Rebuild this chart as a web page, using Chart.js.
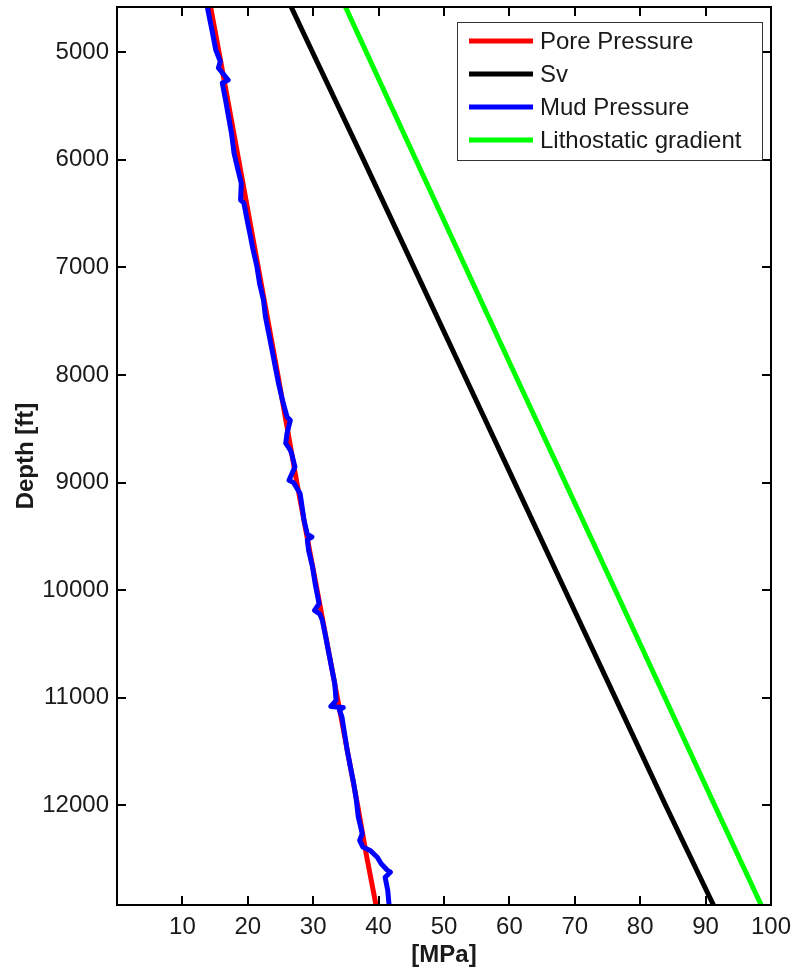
<!DOCTYPE html>
<html>
<head>
<meta charset="utf-8">
<script src="https://cdn.jsdelivr.net/npm/chart.js@4.4.0/dist/chart.umd.min.js"></script>
<style>
html,body{margin:0;padding:0;background:#fff;}
</style>
</head>
<body>
<canvas id="myChart" width="795" height="975"></canvas>
<script>
// tick labels
const depthTicks = [5000, 6000, 7000, 8000, 9000, 10000, 11000, 12000];
const mpaTicks = [10, 20, 30, 40, 50, 60, 70, 80, 90, 100];

// Pore pressure [MPa] vs depth [ft]
const poreDepth = [4575, 5000, 6000, 7000, 8000, 9000, 10000, 11000, 12000, 12450, 12925];
const poreMPa   = [14.3, 15.6, 18.6, 21.6, 24.6, 27.5, 30.6, 33.7, 36.8, 38.1, 39.6];

// Overburden Sv
const svDepth = [4575, 5000, 6000, 7000, 8000, 9000, 10000, 11000, 12000, 12925];
const svMPa   = [26.6, 29.9, 37.7, 45.4, 53.1, 60.8, 68.5, 76.2, 83.9, 91.2];

// Mud pressure
const mudDepth = [4575, 4607, 4820, 4979, 5087, 5146, 5258, 5286, 5444, 5751, 5939, 6095, 6217, 6374, 6400,
  6529, 6681, 6834, 6994, 7148, 7304, 7459, 7611, 7766, 7924, 8078, 8234, 8389, 8420, 8543, 8634, 8699,
  8729, 8854, 8978, 9000, 9101, 9226, 9350, 9480, 9505, 9530, 9629, 9784, 9939, 10094, 10125, 10187, 10220,
  10280, 10400, 10558, 10714, 10868, 11024, 11080, 11090, 11110, 11179, 11334, 11489, 11644, 11798, 11953,
  12109, 12263, 12325, 12387, 12418, 12481, 12542, 12600, 12620, 12667, 12791, 12925];
const mudMPa = [13.8, 13.9, 14.6, 15.1, 15.8, 15.5, 17.0, 16.1, 16.6, 17.5, 17.9, 18.5, 19.0, 18.9, 19.4,
  19.8, 20.3, 20.8, 21.4, 21.8, 22.4, 22.7, 23.2, 23.7, 24.2, 24.7, 25.3, 26.0, 26.5, 26.0, 25.8, 26.5,
  26.7, 27.2, 26.3, 27.0, 28.0, 28.3, 28.6, 29.1, 29.8, 29.1, 29.3, 29.9, 30.3, 30.8, 30.9, 30.2, 31.0,
  31.4, 31.8, 32.3, 32.8, 33.3, 33.5, 32.7, 34.6, 34.0, 34.4, 34.8, 35.2, 35.7, 36.2, 36.6,
  36.9, 37.5, 37.1, 37.6, 38.7, 39.8, 40.4, 41.3, 41.8, 41.0, 41.4, 41.6];

// Lithostatic gradient
const lithoDepth = [4575, 6000, 8000, 10000, 12000, 12925];
const lithoMPa   = [34.9, 45.7, 60.9, 76.2, 91.4, 98.5];

function pts(xs, ys){
    var out = [];
    for(var i=0;i<xs.length;i++){
        out.push({x: xs[i], y: ys[i]});
    }
    return out;
}

const FONT = "'Liberation Sans', Arial, sans-serif";
const TXT = '#1a1a1a';

// frame with inward ticks on all four sides + legend inside the plot
const matlabAxes = {
    id: 'matlabAxes',
    afterDraw(chart){
        const ctx = chart.ctx;
        const a = chart.chartArea;
        const xs = chart.scales.x, ys = chart.scales.y;
        const tl = 9;
        ctx.save();
        ctx.strokeStyle = '#000';
        ctx.lineWidth = 2;
        ctx.beginPath();
        mpaTicks.forEach(function(v){
            const px = Math.round(xs.getPixelForValue(v));
            ctx.moveTo(px, a.bottom); ctx.lineTo(px, a.bottom - tl);
            ctx.moveTo(px, a.top); ctx.lineTo(px, a.top + tl);
        });
        depthTicks.forEach(function(v){
            const py = Math.round(ys.getPixelForValue(v));
            ctx.moveTo(a.left, py); ctx.lineTo(a.left + tl, py);
            ctx.moveTo(a.right, py); ctx.lineTo(a.right - tl, py);
        });
        ctx.stroke();
        ctx.strokeRect(a.left, a.top, a.right - a.left, a.bottom - a.top);

        // legend
        const lx = 457, ly = 22, lw = 305, lh = 138;
        ctx.fillStyle = '#fff';
        ctx.fillRect(lx, ly, lw, lh);
        ctx.lineWidth = 1;
        ctx.strokeStyle = '#333';
        ctx.strokeRect(lx + 0.5, ly + 0.5, lw, lh);
        ctx.font = '24px ' + FONT;
        ctx.textBaseline = 'middle';
        ctx.textAlign = 'left';
        chart.data.datasets.forEach(function(ds, i){
            const y = 41 + i * 33;
            ctx.strokeStyle = ds.borderColor;
            ctx.lineWidth = 5;
            ctx.beginPath();
            ctx.moveTo(469, y); ctx.lineTo(533, y);
            ctx.stroke();
            ctx.fillStyle = TXT;
            ctx.fillText(ds.label, 540, y + 1);
        });
        ctx.restore();
    }
};

const data = {
    datasets: [
        {label: 'Pore Pressure', data: pts(poreMPa, poreDepth), borderColor: '#ff0000', order: 3},
        {label: 'Sv', data: pts(svMPa, svDepth), borderColor: '#000000', order: 2},
        {label: 'Mud Pressure', data: pts(mudMPa, mudDepth), borderColor: '#0000ff', order: 0},
        {label: 'Lithostatic gradient', data: pts(lithoMPa, lithoDepth), borderColor: '#00ff00', order: 1}
    ]
};
data.datasets.forEach(function(ds){
    ds.showLine = true;
    ds.pointRadius = 0;
    ds.borderWidth = 5;
    ds.borderJoinStyle = 'round';
    ds.tension = 0;
    ds.fill = false;
});

function plain(v){ return String(v); }

const config = {
    type: 'scatter',
    data: data,
    options: {
        responsive: false,
        maintainAspectRatio: false,
        animation: false,
        devicePixelRatio: 1,
        layout: {padding: {top: 7, right: 24, left: 0, bottom: 0}},
        plugins: {legend: {display: false}, tooltip: {enabled: false}},
        scales: {
            x: {
                type: 'linear', position: 'bottom', min: 0, max: 100,
                grid: {display: false, drawTicks: false},
                border: {display: false},
                afterBuildTicks: function(s){ s.ticks = mpaTicks.map(function(v){ return {value: v}; }); },
                afterFit: function(s){ s.height = 70; s.paddingLeft = 0; s.paddingRight = 0; },
                ticks: {padding: 8, maxRotation: 0, autoSkip: false, color: TXT, callback: plain,
                        font: {family: FONT, size: 24}},
                title: {display: true, text: '[MPa]', color: TXT, padding: {bottom: 5, top: 0},
                        font: {family: FONT, size: 24, weight: 'bold', lineHeight: 1.2}}
            },
            y: {
                type: 'linear', position: 'left', reverse: true, min: 4580, max: 12925,
                grid: {display: false, drawTicks: false},
                border: {display: false},
                afterBuildTicks: function(s){ s.ticks = depthTicks.map(function(v){ return {value: v}; }); },
                afterFit: function(s){ s.width = 117; s.paddingTop = 0; s.paddingBottom = 0; },
                ticks: {padding: 8, autoSkip: false, color: TXT, callback: plain,
                        font: {family: FONT, size: 24}},
                title: {display: true, text: 'Depth [ft]', color: TXT, padding: {top: 12, bottom: 0},
                        font: {family: FONT, size: 24, weight: 'bold', lineHeight: 1.2}}
            }
        }
    },
    plugins: [matlabAxes]
};

new Chart(document.getElementById('myChart'), config);
</script>
</body>
</html>
